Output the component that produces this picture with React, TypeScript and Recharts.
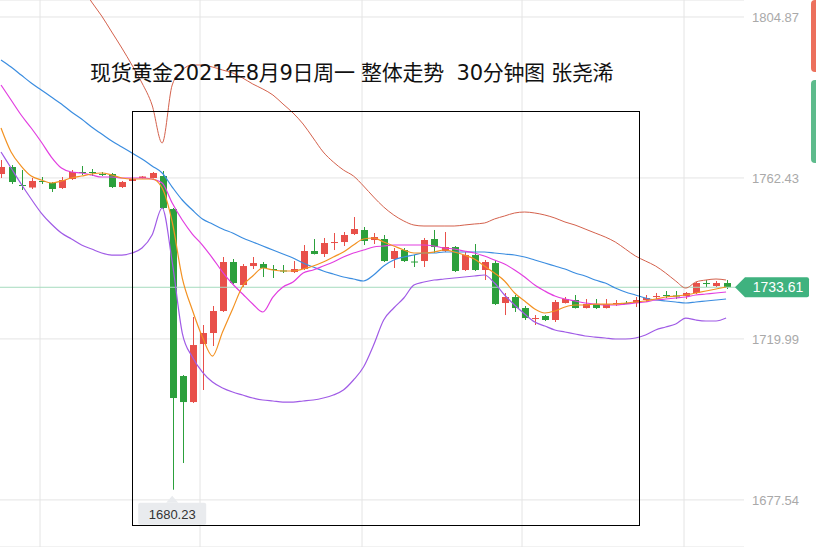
import React from 'react';
import {
  ComposedChart,
  Bar,
  Line,
  XAxis,
  YAxis,
  CartesianGrid,
  ReferenceLine,
  ReferenceDot,
} from 'recharts';

// 30 分钟 K 线 (现货黄金 2021-08-09)
const opens = [
  1763.47, 1765.32, 1760.57, 1759.91, 1761.63, 1761.1, 1759.78, 1762.15, 1764.0, 1764.0,
  1763.47, 1763.47, 1760.04, 1761.63, 1762.42, 1762.42, 1762.94, 1754.24, 1710.21, 1703.35,
  1718.65, 1721.55, 1727.35, 1740.27, 1734.2, 1739.21, 1739.74, 1738.42, 1738.03, 1737.63,
  1738.42, 1743.17, 1742.38, 1745.28, 1745.54, 1747.65, 1748.71, 1746.07, 1746.33, 1741.06,
  1743.43, 1740.4, 1740.53, 1746.33, 1743.17, 1744.22, 1738.16, 1742.11, 1738.16, 1740.0,
  1729.46, 1731.04, 1728.14, 1725.37, 1726.03, 1724.98, 1729.46, 1730.25, 1728.14, 1729.19,
  1728.14, 1729.33, 1729.46, 1729.46, 1730.25, 1731.17, 1731.57, 1731.44, 1731.3, 1732.1,
  1734.73, 1733.94, 1734.73,
];
const highs = [
  1767.16, 1765.84, 1764.53, 1762.42, 1762.68, 1761.36, 1762.68, 1764.53, 1765.58, 1764.79,
  1764.0, 1763.74, 1761.63, 1762.42, 1762.94, 1764.0, 1764.26, 1754.51, 1710.47, 1725.77,
  1723.66, 1728.67, 1741.59, 1741.06, 1739.74, 1741.59, 1740.27, 1739.48, 1739.48, 1740.53,
  1744.75, 1746.33, 1746.6, 1747.91, 1748.18, 1752.13, 1749.5, 1747.91, 1747.39, 1743.96,
  1743.96, 1742.11, 1746.6, 1748.71, 1748.18, 1744.49, 1742.9, 1745.01, 1740.8, 1740.8,
  1732.1, 1731.57, 1728.67, 1726.29, 1726.29, 1730.25, 1731.04, 1731.57, 1730.51, 1730.51,
  1730.51, 1730.25, 1729.99, 1731.04, 1731.57, 1732.1, 1732.62, 1732.62, 1732.36, 1735.0,
  1735.52, 1735.26, 1735.52,
];
const lows = [
  1762.42, 1760.83, 1759.25, 1759.52, 1760.83, 1758.73, 1759.52, 1761.89, 1763.21, 1762.94,
  1762.94, 1759.78, 1759.78, 1761.36, 1762.3, 1762.29, 1754.24, 1680.23, 1687.27, 1703.09,
  1706.52, 1718.12, 1727.09, 1734.47, 1733.68, 1738.42, 1736.31, 1736.05, 1737.37, 1737.37,
  1738.16, 1742.25, 1741.59, 1743.43, 1744.49, 1747.39, 1744.75, 1745.01, 1740.27, 1738.69,
  1740.27, 1738.95, 1738.95, 1742.64, 1742.9, 1737.63, 1737.9, 1737.9, 1735.52, 1728.93,
  1726.29, 1727.09, 1724.98, 1723.66, 1724.71, 1724.45, 1729.33, 1728.0, 1728.0, 1727.88,
  1728.0, 1728.67, 1729.19, 1728.4, 1729.72, 1730.51, 1730.78, 1730.51, 1730.51, 1731.83,
  1733.68, 1733.68, 1733.15,
];
const closes = [
  1765.32, 1761.36, 1760.31, 1761.63, 1761.49, 1759.52, 1761.89, 1764.0, 1763.87, 1763.87,
  1763.4, 1760.04, 1761.36, 1762.15, 1762.81, 1763.74, 1754.51, 1704.41, 1703.35, 1718.38,
  1721.55, 1727.35, 1740.27, 1734.73, 1739.21, 1740.0, 1738.69, 1738.16, 1737.9, 1738.42,
  1743.17, 1742.38, 1745.28, 1745.54, 1747.39, 1748.97, 1745.81, 1746.86, 1740.53, 1743.17,
  1740.53, 1740.27, 1746.07, 1744.22, 1744.22, 1737.9, 1742.11, 1738.16, 1740.27, 1729.19,
  1731.04, 1728.14, 1725.5, 1725.5, 1724.98, 1729.72, 1730.51, 1728.14, 1729.19, 1728.14,
  1729.19, 1729.46, 1729.33, 1730.25, 1730.78, 1731.3, 1731.44, 1731.3, 1732.1, 1734.73,
  1734.6, 1734.73, 1733.61,
];

// 均线 / 布林带
const maFast = [
  1775.6, 1769.27, 1765.58, 1762.94, 1761.89, 1761.1, 1761.63, 1762.42, 1762.94, 1763.47,
  1763.74, 1763.21, 1762.42, 1762.15, 1762.15, 1762.15, 1759.78, 1750.82, 1736.05, 1727.61,
  1720.49, 1715.48, 1721.81, 1727.88, 1733.94, 1736.58, 1738.69, 1738.16, 1737.9, 1737.9,
  1738.42, 1739.21, 1740.27, 1741.59, 1742.91, 1744.75, 1746.33, 1746.6, 1745.54, 1744.49,
  1743.43, 1742.64, 1742.64, 1742.91, 1743.43, 1742.91, 1742.11, 1741.06, 1739.21, 1737.37,
  1735.26, 1732.1, 1729.99, 1727.88, 1726.82, 1727.35, 1728.4, 1728.93, 1728.93, 1729.19,
  1729.19, 1729.19, 1729.46, 1729.72, 1729.99, 1730.51, 1731.04, 1731.3, 1731.57, 1732.1,
  1732.62, 1733.15, 1733.68,
];
const maMid = [
  1786.94, 1782.98, 1779.03, 1775.6, 1771.91, 1767.95, 1765.05, 1764.0, 1763.74, 1763.21,
  1762.68, 1762.68, 1762.42, 1762.42, 1762.42, 1762.15, 1761.1, 1755.82, 1751.34, 1747.65,
  1744.75, 1741.32, 1737.63, 1734.47, 1731.83, 1729.19, 1727.09, 1731.04, 1733.68, 1735.0,
  1737.37, 1738.16, 1739.21, 1740.27, 1741.59, 1742.64, 1743.43, 1744.22, 1744.49, 1744.75,
  1744.75, 1744.75, 1744.75, 1744.49, 1743.96, 1743.7, 1743.17, 1742.64, 1741.85, 1740.8,
  1739.74, 1738.16, 1736.31, 1734.2, 1732.62, 1731.3, 1730.51, 1729.99, 1729.46, 1729.19,
  1728.93, 1728.93, 1729.19, 1729.46, 1729.72, 1730.25, 1730.51, 1730.78, 1731.04, 1731.57,
  1731.83, 1732.1, 1732.36,
];
const maSlow = [
  1793.53, 1791.68, 1789.57, 1787.47, 1785.62, 1783.77, 1781.93, 1779.82, 1777.97, 1775.86,
  1774.02, 1772.17, 1770.59, 1769.01, 1767.43, 1765.58, 1763.74, 1760.04, 1756.62, 1753.98,
  1751.61, 1750.29, 1748.97, 1747.91, 1746.6, 1745.54, 1744.49, 1743.43, 1742.38, 1741.32,
  1740.0, 1738.95, 1737.9, 1737.1, 1736.31, 1735.79, 1735.26, 1736.84, 1739.21, 1740.8,
  1741.59, 1742.11, 1742.64, 1742.64, 1742.91, 1742.91, 1742.91, 1742.91, 1742.91, 1742.64,
  1742.38, 1742.11, 1741.59, 1740.8, 1740.0, 1739.21, 1738.42, 1737.37, 1736.58, 1735.52,
  1734.73, 1733.41, 1732.36, 1731.57, 1730.78, 1730.25, 1729.99, 1729.72, 1729.46, 1729.72,
  1729.99, 1730.25, 1730.51,
];
const bollUpper = [
  null, null, null, null, null, null, null, null, 1813.04, 1808.82,
  1805.13, 1800.91, 1796.69, 1792.21, 1787.47, 1781.66, 1771.65, 1786.94, 1790.89, 1792.21,
  1792.21, 1791.68, 1790.89, 1790.1, 1788.78, 1787.2, 1785.88, 1784.3, 1781.93, 1779.56,
  1776.65, 1772.96, 1769.27, 1766.64, 1764.53, 1762.94, 1760.31, 1757.41, 1754.77, 1752.66,
  1751.08, 1750.02, 1749.76, 1749.76, 1749.76, 1749.76, 1750.02, 1750.29, 1750.55, 1751.61,
  1752.4, 1753.19, 1753.45, 1753.19, 1752.66, 1751.87, 1750.82, 1750.02, 1748.97, 1747.91,
  1746.86, 1745.54, 1743.7, 1741.85, 1740.53, 1739.21, 1737.37, 1735.26, 1733.41, 1735.0,
  1735.52, 1735.79, 1735.52,
];
const bollLower = [
  1769.27, 1765.05, 1760.83, 1756.88, 1753.19, 1750.29, 1747.91, 1746.33, 1744.75, 1743.7,
  1742.64, 1742.11, 1742.11, 1742.64, 1743.96, 1747.39, 1754.51, 1740.27, 1721.55, 1715.22,
  1711.26, 1708.63, 1707.05, 1705.99, 1705.2, 1704.41, 1703.88, 1703.62, 1703.35, 1703.35,
  1703.62, 1703.88, 1704.41, 1705.2, 1706.52, 1709.16, 1712.58, 1718.38, 1724.98, 1728.14,
  1730.78, 1734.2, 1735.0, 1735.52, 1735.79, 1736.05, 1736.31, 1736.58, 1736.84, 1734.73,
  1731.57, 1728.93, 1726.56, 1724.45, 1723.39, 1722.34, 1721.81, 1721.28, 1720.76, 1720.49,
  1720.23, 1719.97, 1719.97, 1720.23, 1721.02, 1722.34, 1723.13, 1723.92, 1725.5, 1724.98,
  1724.71, 1724.71, 1725.5,
];

const priceTicks = [1677.54, 1719.99, 1762.43, 1804.87];
const lastPrice = 1733.61;
const lowPrice = 1680.23;
const lowIndex = 17;
const title = '现货黄金2021年8月9日周一 整体走势  30分钟图 张尧浠';

const UP = '#e8504a';
const DOWN = '#2ca03c';

const rows = opens.map((open, i) => ({
  i,
  open,
  high: highs[i],
  low: lows[i],
  close: closes[i],
  range: [lows[i], highs[i]],
  maFast: maFast[i],
  maMid: maMid[i],
  maSlow: maSlow[i],
  bollUpper: bollUpper[i],
  bollLower: bollLower[i],
}));

const Candle = (props: any) => {
  const { x, y, width, height, payload } = props;
  if (!payload) return null;
  const { open, close, high, low } = payload;
  const color = close >= open ? UP : DOWN;
  const span = high - low || 1;
  const toY = (p: number) => y + ((high - p) / span) * height;
  const cx = Math.round(x + width / 2) + 0.5;
  const top = toY(Math.max(open, close));
  const bottom = toY(Math.min(open, close));
  return (
    <g>
      <line x1={cx} x2={cx} y1={y} y2={y + height} stroke={color} strokeWidth={1} />
      <rect x={cx - 3.5} y={top} width={7} height={Math.max(bottom - top, 1)} fill={color} />
    </g>
  );
};

const PriceTag = (props: any) => {
  const vb = props.viewBox || {};
  const right = (vb.x || 0) + (vb.width || 0);
  const yc = vb.y || 0;
  const left = right - 9;
  const path = `M${left},${yc} L${left + 10},${yc - 10} L${left + 72},${yc - 10} Q${left + 74},${yc - 10} ${left + 74},${yc - 8} L${left + 74},${yc + 8} Q${left + 74},${yc + 10} ${left + 72},${yc + 10} L${left + 10},${yc + 10} Z`;
  return (
    <g>
      <path d={path} fill="#3fb27f" />
      <text
        x={left + 43}
        y={yc + 5}
        textAnchor="middle"
        fill="#fff"
        fontSize={14}
        fontFamily="Liberation Sans, Arial, sans-serif"
      >
        {lastPrice.toFixed(2)}
      </text>
    </g>
  );
};

const LowTag = (props: any) => {
  const { cx, cy } = props;
  if (cx == null || cy == null) return null;
  const top = cy + 13;
  return (
    <g>
      <path d={`M${cx - 6},${top} L${cx},${cy + 6} L${cx + 6},${top} Z`} fill="#e9ebee" />
      <rect x={cx - 34} y={top} width={68} height={22} rx={2} fill="#e9ebee" />
      <text
        x={cx}
        y={top + 16}
        textAnchor="middle"
        fill="#333"
        fontSize={13}
        fontFamily="Liberation Sans, Arial, sans-serif"
      >
        {lowPrice.toFixed(2)}
      </text>
    </g>
  );
};

const lineProps = {
  type: 'monotone' as const,
  dot: false,
  activeDot: false,
  isAnimationActive: false,
};

export default function App() {
  return (
    <div
      style={{
        position: 'absolute',
        left: 0,
        top: 0,
        width: 816,
        height: 547,
        background: '#fff',
        overflow: 'hidden',
        fontFamily: '"DejaVu Sans", "Noto Sans CJK SC", sans-serif',
      }}
    >
      <ComposedChart
        width={816}
        height={547}
        data={rows}
        margin={{ top: 0, right: 0, bottom: 0, left: 0 }}
      >
        <CartesianGrid
          stroke="#e4e4e4"
          verticalPoints={[40, 200, 362, 522, 684]}
        />
        <XAxis type="number" dataKey="i" domain={[-0.1, 73.78]} hide />
        <YAxis
          orientation="right"
          width={72}
          domain={[1665.13, 1809.35]}
          allowDataOverflow
          ticks={priceTicks}
          tickFormatter={(v: number) => v.toFixed(2)}
          axisLine={false}
          tickLine={false}
          tick={{ fill: '#a9a9a9', fontSize: 13, fontFamily: 'Liberation Sans, Arial, sans-serif' }}
        />
        <ReferenceLine y={lastPrice} stroke="#a6dbbf" strokeWidth={1} label={<PriceTag />} />
        <Bar dataKey="range" barSize={7} shape={<Candle />} activeBar={false} isAnimationActive={false} />
        <Line {...lineProps} dataKey="bollUpper" stroke="#d4614c" strokeWidth={1} />
        <Line {...lineProps} dataKey="bollLower" stroke="#a05be6" strokeWidth={1.2} />
        <Line {...lineProps} dataKey="maSlow" stroke="#3b8de0" strokeWidth={1.2} />
        <Line {...lineProps} dataKey="maMid" stroke="#e23ee0" strokeWidth={1.2} />
        <Line {...lineProps} dataKey="maFast" stroke="#f39222" strokeWidth={1.2} />
        <ReferenceDot x={lowIndex} y={lowPrice} r={0} shape={<LowTag />} />
      </ComposedChart>

      <div
        style={{
          position: 'absolute',
          left: 90,
          top: 61,
          fontSize: 21,
          lineHeight: '24px',
          letterSpacing: '-0.3px',
          color: '#111',
          whiteSpace: 'pre',
        }}
      >
        {title}
      </div>

      <div
        style={{
          position: 'absolute',
          left: 132,
          top: 111,
          width: 506,
          height: 413,
          border: '1px solid #000',
        }}
      />

      <div style={{ position: 'absolute', left: 811, top: 0, width: 8, height: 72, background: '#ec705c', borderRadius: 4 }} />
      <div style={{ position: 'absolute', left: 811, top: 80, width: 8, height: 83, background: '#5dbb8c', borderRadius: 4 }} />
    </div>
  );
}
